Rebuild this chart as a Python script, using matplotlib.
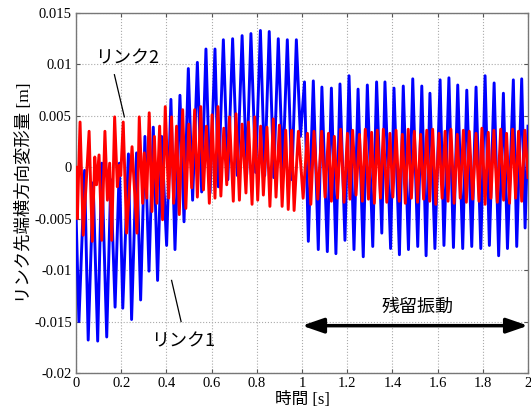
import matplotlib
matplotlib.use("Agg")
import matplotlib.pyplot as plt
import numpy as np

# --------------------------------------
# Data (extremes)
# --------------------------------------
# link 1 (blue): time [s], deflection [m]
t_link1 = [0.000, 0.013, 0.038, 0.054, 0.076, 0.096, 0.114, 0.136, 0.154, 0.173,
           0.192, 0.207, 0.232, 0.246, 0.268, 0.286, 0.305, 0.323, 0.342, 0.361,
           0.379, 0.401, 0.420, 0.438, 0.460, 0.478, 0.497, 0.516, 0.537, 0.556,
           0.575, 0.593, 0.615, 0.630, 0.652, 0.672, 0.693, 0.714, 0.735, 0.755,
           0.774, 0.795, 0.816, 0.835, 0.855, 0.875, 0.895, 0.915, 0.935, 0.955,
           0.975, 0.993, 1.011, 1.028, 1.050, 1.072, 1.088, 1.112, 1.130, 1.150,
           1.168, 1.190, 1.208, 1.230, 1.248, 1.271, 1.289, 1.313, 1.330, 1.353,
           1.367, 1.392, 1.407, 1.431, 1.448, 1.471, 1.490, 1.512, 1.530, 1.549,
           1.566, 1.588, 1.611, 1.628, 1.650, 1.670, 1.689, 1.711, 1.729, 1.751,
           1.770, 1.791, 1.810, 1.829, 1.850, 1.870, 1.891, 1.909, 1.935, 1.950,
           1.972, 1.987, 2.000]
v_link1 = [-0.0044, -0.0150, -0.0003, -0.0168, -0.0015, -0.0169, 0.0004, -0.0165, -0.0012, -0.0136,
           0.0004, -0.0137, 0.0013, -0.0148, 0.0014, -0.0129, 0.0030, -0.0101, 0.0039, -0.0110,
           0.0030, -0.0076, 0.0066, -0.0080, 0.0070, -0.0053, 0.0096, -0.0032, 0.0102, -0.0024,
           0.0115, -0.0025, 0.0115, -0.0019, 0.0124, -0.0012, 0.0125, -0.0008, 0.0128, -0.0007,
           0.0130, -0.0005, 0.0133, -0.0008, 0.0132, -0.0010, 0.0125, -0.0006, 0.0124, -0.0012,
           0.0124, 0.0030, 0.0083, -0.0072, 0.0084, -0.0080, 0.0078, -0.0082, 0.0077, -0.0084,
           0.0081, -0.0071, 0.0089, -0.0080, 0.0076, -0.0087, 0.0080, -0.0077, 0.0083, -0.0064,
           0.0083, -0.0079, 0.0077, -0.0085, 0.0079, -0.0080, 0.0086, -0.0077, 0.0079, -0.0086,
           0.0072, -0.0079, 0.0085, -0.0076, 0.0087, -0.0078, 0.0080, -0.0079, 0.0075, -0.0077,
           0.0078, -0.0079, 0.0089, -0.0076, 0.0082, -0.0086, 0.0072, -0.0079, 0.0085, -0.0077,
           0.0086, -0.0059, 0.0040]

# link 2 (red): transient part
t_link2_a = [0.000, 0.006, 0.018, 0.032, 0.058, 0.072, 0.083, 0.091, 0.102, 0.114,
             0.128, 0.139, 0.149, 0.158, 0.171, 0.183, 0.192, 0.198, 0.209, 0.224,
             0.248, 0.270, 0.280, 0.295, 0.302, 0.313, 0.324, 0.336, 0.347, 0.358,
             0.370, 0.383, 0.395, 0.410, 0.423, 0.432, 0.445, 0.457, 0.472, 0.486,
             0.499, 0.512, 0.525, 0.537, 0.552, 0.564, 0.577, 0.590, 0.602, 0.615,
             0.628, 0.641, 0.654, 0.667, 0.679, 0.696, 0.708, 0.723, 0.735, 0.752,
             0.763, 0.779, 0.791, 0.804, 0.817, 0.829, 0.845, 0.858, 0.873, 0.885,
             0.900, 0.912, 0.928, 0.939, 0.954, 0.965, 0.984]
v_link2_a = [0.0000, -0.0050, 0.0044, -0.0066, 0.0035, -0.0072, 0.0010, -0.0017, 0.0012, -0.0071,
             0.0035, -0.0032, 0.0004, -0.0071, 0.0049, -0.0019, 0.0002, -0.0008, 0.0044, -0.0064,
             0.0020, -0.0064, 0.0049, -0.0035, 0.0014, -0.0030, 0.0053, -0.0043, 0.0030, -0.0035,
             0.0040, -0.0051, 0.0059, -0.0030, 0.0049, -0.0035, 0.0040, -0.0046, 0.0056, -0.0040,
             0.0042, -0.0020, 0.0056, -0.0029, 0.0059, -0.0022, 0.0040, -0.0035, 0.0051, -0.0030,
             0.0059, -0.0028, 0.0038, -0.0017, 0.0049, -0.0033, 0.0052, -0.0032, 0.0042, -0.0025,
             0.0044, -0.0036, 0.0049, -0.0032, 0.0040, -0.0027, 0.0039, -0.0038, 0.0047, -0.0029,
             0.0041, -0.0038, 0.0036, -0.0041, 0.0036, -0.0042, 0.0035]

# link 2 (red): residual vibration, peaks and troughs
t_link2_pk = [1.024, 1.053, 1.087, 1.117, 1.143, 1.171, 1.201, 1.224, 1.254, 1.280,
              1.308, 1.333, 1.360, 1.389, 1.416, 1.444, 1.470, 1.497, 1.525, 1.552,
              1.578, 1.606, 1.633, 1.659, 1.687, 1.714, 1.740, 1.770, 1.796, 1.824,
              1.849, 1.879, 1.905, 1.932, 1.958, 1.986]
v_link2_pk = [0.0033, 0.0035, 0.0035, 0.0033, 0.0030, 0.0037, 0.0033, 0.0036, 0.0032, 0.0037,
              0.0034, 0.0036, 0.0037, 0.0033, 0.0036, 0.0032, 0.0037, 0.0035, 0.0032, 0.0036,
              0.0037, 0.0033, 0.0035, 0.0037, 0.0032, 0.0036, 0.0035, 0.0033, 0.0038, 0.0034,
              0.0036, 0.0037, 0.0033, 0.0037, 0.0035, 0.0036]
t_link2_tr = [1.005, 1.039, 1.070, 1.102, 1.130, 1.157, 1.186, 1.212, 1.239, 1.267,
              1.294, 1.320, 1.347, 1.375, 1.402, 1.430, 1.457, 1.484, 1.511, 1.538,
              1.565, 1.592, 1.620, 1.646, 1.673, 1.700, 1.727, 1.755, 1.783, 1.810,
              1.836, 1.864, 1.892, 1.918, 1.945, 1.972, 2.000]
v_link2_tr = [-0.0030, -0.0036, -0.0031, -0.0029, -0.0033, -0.0030, -0.0034, -0.0031, -0.0027, -0.0033,
              -0.0031, -0.0035, -0.0030, -0.0034, -0.0029, -0.0033, -0.0035, -0.0030, -0.0034, -0.0031,
              -0.0033, -0.0036, -0.0030, -0.0033, -0.0035, -0.0030, -0.0034, -0.0031, -0.0033, -0.0036,
              -0.0030, -0.0034, -0.0032, -0.0035, -0.0030, -0.0033, -0.0010]

x_ticks = [0, 0.2, 0.4, 0.6, 0.8, 1, 1.2, 1.4, 1.6, 1.8, 2]
x_ticklabels = ["0", "0.2", "0.4", "0.6", "0.8", "1", "1.2", "1.4", "1.6", "1.8", "2"]
y_ticks = [-0.02, -0.015, -0.01, -0.005, 0, 0.005, 0.01, 0.015]
y_ticklabels = ["-0.02", "-0.015", "-0.01", "-0.005", "0", "0.005", "0.01", "0.015"]

# merge red segments in time order
t_res = np.array(t_link2_pk + t_link2_tr)
v_res = np.array(v_link2_pk + v_link2_tr)
order = np.argsort(t_res)
t_link2 = np.concatenate([t_link2_a, t_res[order]])
v_link2 = np.concatenate([v_link2_a, v_res[order]])

# --------------------------------------
# Plot
# --------------------------------------
jp = ["Noto Sans CJK JP", "DejaVu Sans"]
jp_serif = ["Liberation Serif", "Noto Sans CJK JP"]
serif = "Liberation Serif"

fig = plt.figure(figsize=(5.31, 4.13), dpi=100)
ax = fig.add_axes([0.1431, 0.0969, 0.8513, 0.8716])

ax.plot(t_link1, v_link1, color="#0000ff", lw=2.1, zorder=3, solid_joinstyle="round")
ax.plot(t_link2, v_link2, color="#ff0000", lw=2.1, zorder=4, solid_joinstyle="round")

ax.set_xlim(0, 2)
ax.set_ylim(-0.02, 0.015)
ax.set_xticks(x_ticks)
ax.set_xticklabels(x_ticklabels, fontfamily=serif, fontsize=10.5)
ax.set_yticks(y_ticks)
ax.set_yticklabels(y_ticklabels, fontfamily=serif, fontsize=10.5)
ax.tick_params(direction="in", length=3, color="#555555", top=True, right=True, pad=3)

ax.grid(True, linestyle=":", color="#aaaaaa", lw=0.8, zorder=0)
for s in ax.spines.values():
    s.set_color("#777777")
    s.set_linewidth(1)

ax.set_xlabel("時間 [s]", fontfamily=jp_serif, fontsize=12, labelpad=1)
ax.set_ylabel("リンク先端横方向変形量 [m]", fontfamily=jp_serif, fontsize=12.5, labelpad=1)

# annotations
ax.text(0.228, 0.0106, "リンク2", fontfamily=jp, fontsize=13, ha="center", va="center")
ax.plot([0.170, 0.214], [0.0090, 0.0049], color="black", lw=0.9, zorder=5)
ax.text(0.473, -0.0169, "リンク1", fontfamily=jp, fontsize=13, ha="center", va="center")
ax.plot([0.423, 0.465], [-0.0110, -0.0150], color="black", lw=0.9, zorder=5)

ax.text(1.513, -0.0136, "残留振動", fontfamily=jp, fontsize=13, ha="center", va="center")
ax.annotate("", xy=(1.0, -0.0154), xytext=(2.0, -0.0154),
            arrowprops=dict(arrowstyle="<|-|>,head_length=1.3,head_width=0.45",
                            color="black", lw=2.5, shrinkA=0, shrinkB=0),
            zorder=6, annotation_clip=False)

plt.savefig("out.png", dpi=100)
plt.close()
